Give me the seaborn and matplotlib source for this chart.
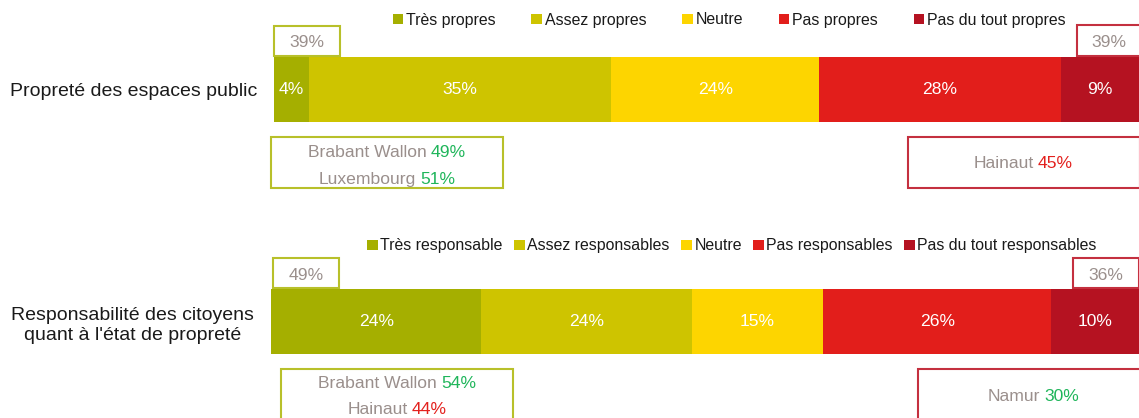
import matplotlib
matplotlib.use("Agg")
import matplotlib.pyplot as plt
from matplotlib.patches import Rectangle, Patch
import numpy as np
import pandas as pd
import seaborn as sns

# ---- data ---------------------------------------------------------------
categories = [
    "Propreté des espaces public",
    "Responsabilité des citoyens\nquant à l'état de propreté",
]
clean_levels = ["Très propres", "Assez propres", "Neutre", "Pas propres", "Pas du tout propres"]
clean_values = [4, 35, 24, 28, 9]
resp_levels = ["Très responsable", "Assez responsables", "Neutre", "Pas responsables",
               "Pas du tout responsables"]
resp_values = [24, 24, 15, 26, 10]

# totals shown in the small boxes (positive side / negative side)
clean_totals = [39, 39]
resp_totals = [49, 36]

# regional highlights: name, value, above average?
clean_regions_pos = [("Brabant Wallon", 49, True), ("Luxembourg", 51, True)]
clean_regions_neg = [("Hainaut", 45, False)]
resp_regions_pos = [("Brabant Wallon", 54, True), ("Hainaut", 44, False)]
resp_regions_neg = [("Namur", 30, True)]

# ---- style --------------------------------------------------------------
W, H, DPI = 1139, 418, 100
palette = ["#a5af00", "#cec400", "#fdd500", "#e21e1b", "#b51221"]
GREY = "#9a8f8c"
GREEN = "#1fb55a"
RED = "#e3201d"
OLIVE_EDGE = "#b8c02a"
RED_EDGE = "#c4303f"
FS = 12.6

sns.set_theme(style="white")
plt.rcParams["font.family"] = ["Liberation Sans", "DejaVu Sans"]

fig = plt.figure(figsize=(W / DPI, H / DPI), dpi=DPI)
fig.patch.set_facecolor("white")


def fx(x):
    return x / W


def fy(y):
    return 1 - y / H


def make_axes(left, top, right, bottom):
    return fig.add_axes([fx(left), fy(bottom), (right - left) / W, (bottom - top) / H])


def stacked_bar(ax, category, levels, values):
    cum = np.cumsum(values)
    # draw cumulative bars from the longest to the shortest so each segment shows
    for i in range(len(values) - 1, -1, -1):
        df = pd.DataFrame({"value": [cum[i]], "cat": [category]})
        sns.barplot(data=df, x="value", y="cat", orient="h", color=palette[i],
                    saturation=1, width=1.0, errorbar=None, linewidth=0, ax=ax)
    starts = cum - np.array(values)
    for s, v in zip(starts, values):
        ax.text(s + v / 2, 0, f"{v}%", color="white", fontsize=FS,
                ha="center", va="center")
    ax.set_xlim(0, cum[-1])
    ax.set_ylim(0.5, -0.5)
    ax.set_xlabel("")
    ax.set_ylabel("")
    ax.set_xticks([])
    ax.tick_params(axis="y", length=0, pad=12.2, labelsize=14.0, labelcolor="#1a1a1a")
    for lbl in ax.get_yticklabels():
        lbl.set_multialignment("center")
        lbl.set_linespacing(1.26)
    sns.despine(ax=ax, left=True, bottom=True)


def legend(levels, cx, cy, spacing):
    handles = [Patch(facecolor=c, edgecolor="none", label=l) for c, l in zip(palette, levels)]
    fig.legend(handles=handles, loc="center", bbox_to_anchor=(fx(cx), fy(cy)),
               ncol=len(levels), frameon=False, fontsize=11.4,
               handlelength=0.68, handleheight=0.68, handletextpad=0.15,
               columnspacing=spacing, labelcolor="#1a1a1a", borderpad=0)


def box(x0, y0, x1, y1, edge):
    fig.patches.append(Rectangle((fx(x0), fy(y1)), (x1 - x0) / W, (y1 - y0) / H,
                                 transform=fig.transFigure, facecolor="white",
                                 edgecolor=edge, linewidth=1.5, clip_on=False))


def box_text(cx, cy, txt, color=GREY):
    fig.text(fx(cx), fy(cy), txt, color=color, fontsize=FS, ha="center", va="center_baseline")


def two_tone(cx, cy, name, value, above):
    r = fig.canvas.get_renderer()
    t1 = fig.text(0, 0, name, color=GREY, fontsize=FS, ha="left", va="center_baseline")
    t2 = fig.text(0, 0, f"{value}%", color=GREEN if above else RED, fontsize=FS,
                  ha="left", va="center_baseline")
    w1 = t1.get_window_extent(r).width
    w2 = t2.get_window_extent(r).width
    gap = FS * DPI / 72 * 0.25
    x0 = cx - (w1 + gap + w2) / 2
    t1.set_position((fx(x0), fy(cy)))
    t2.set_position((fx(x0 + w1 + gap), fy(cy)))


# ---- top block: cleanliness ---------------------------------------------
ax1 = make_axes(274, 57, 1139, 122)
stacked_bar(ax1, categories[0], clean_levels, clean_values)
legend(clean_levels, 729, 20, 2.27)

box(274, 26, 340, 56, OLIVE_EDGE)
box_text(307, 41, f"{clean_totals[0]}%")
box(1077, 25, 1141, 56, RED_EDGE)
box_text(1109, 41, f"{clean_totals[1]}%")

box(271, 137, 503, 188, OLIVE_EDGE)
for (name, val, above), y in zip(clean_regions_pos, [151, 178]):
    two_tone(387, y, name, val, above)
box(908, 137, 1140, 188, RED_EDGE)
for (name, val, above), y in zip(clean_regions_neg, [162]):
    two_tone(1023, y, name, val, above)

# ---- bottom block: responsibility ---------------------------------------
ax2 = make_axes(271, 289, 1139, 354)
stacked_bar(ax2, categories[1], resp_levels, resp_values)
legend(resp_levels, 732, 246, 0.72)

box(273, 258, 339, 288, OLIVE_EDGE)
box_text(306, 274, f"{resp_totals[0]}%")
box(1073, 258, 1139, 288, RED_EDGE)
box_text(1106, 274, f"{resp_totals[1]}%")

box(281, 369, 513, 440, OLIVE_EDGE)
for (name, val, above), y in zip(resp_regions_pos, [382, 408]):
    two_tone(397, y, name, val, above)
box(918, 369, 1150, 440, RED_EDGE)
for (name, val, above), y in zip(resp_regions_neg, [395]):
    two_tone(1033, y, name, val, above)

fig.savefig("out.png", dpi=DPI, facecolor="white")
